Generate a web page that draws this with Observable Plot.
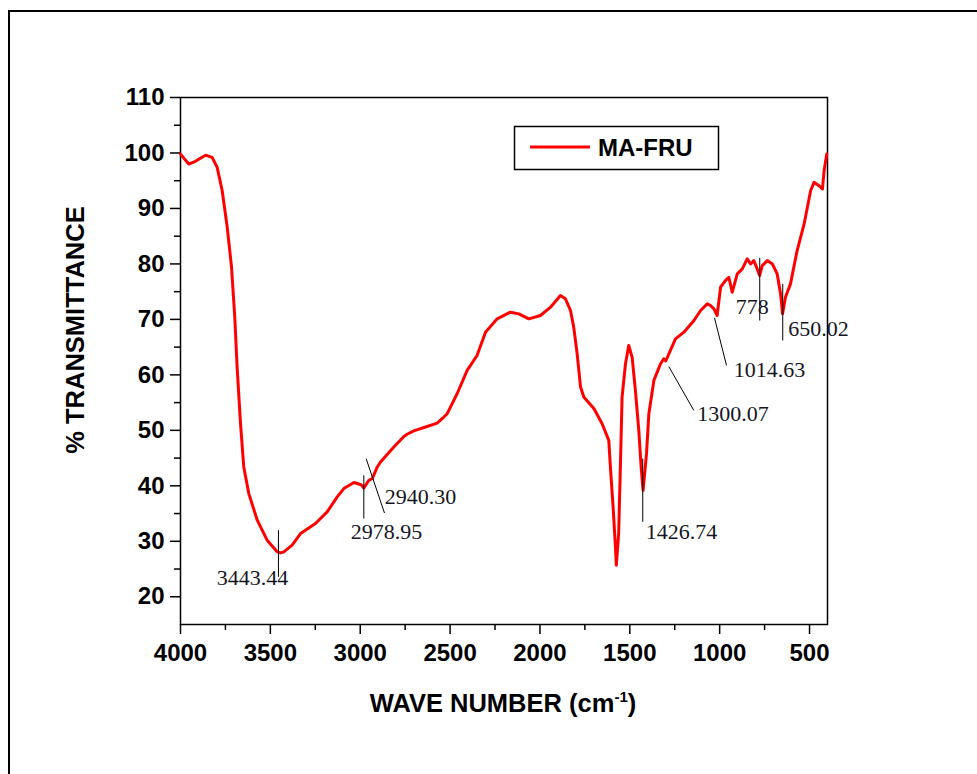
<!DOCTYPE html>
<html>
<head>
<meta charset="utf-8">
<script src="https://cdn.jsdelivr.net/npm/d3@7"></script>
<script src="https://cdn.jsdelivr.net/npm/@observablehq/plot@0.6"></script>
<style>
  body { margin: 0; background: #fff; }
  #wrap { position: relative; width: 977px; height: 774px; overflow: hidden; }
  #border { position: absolute; left: 8px; top: 10px; width: 1000px; height: 800px;
            border-left: 2px solid #000; border-top: 2px solid #000; pointer-events: none; }
</style>
</head>
<body>
<div id="wrap"><div id="border"></div></div>
<script>
// FTIR spectrum of MA-FRU: wavenumber (cm-1) and % transmittance
const wavenumber = [
  4000, 3954, 3917, 3861, 3824, 3796, 3768, 3740, 3716, 3698, 3685, 3666, 3648, 3620,
  3573, 3518, 3462, 3443, 3425, 3379, 3332, 3249, 3184, 3128, 3091, 3035, 2995, 2980,
  2952, 2933, 2905, 2887, 2813, 2757, 2739, 2702, 2628, 2572, 2535, 2516, 2498, 2461,
  2405, 2350, 2303, 2238, 2164, 2117, 2062, 1997, 1941, 1886, 1858, 1830, 1812, 1793,
  1774, 1756, 1699, 1654, 1617, 1608, 1593, 1580, 1575, 1562, 1552, 1543, 1524, 1506,
  1487, 1469, 1450, 1437, 1426, 1407, 1394, 1366, 1329, 1311, 1300, 1246, 1199, 1143,
  1106, 1069, 1051, 1032, 1014, 995, 968, 949, 930, 902, 874, 847, 828, 810, 791, 778,
  763, 735, 707, 680, 661, 650, 634, 606, 569, 530, 494, 475, 447, 428, 419, 404
];
const transmittance = [
  99.8, 98.0, 98.5, 99.6, 99.2, 97.4, 93.2, 86.6, 79.4, 70.4, 61.4, 51.2, 43.4, 38.6,
  33.8, 30.2, 28.1, 27.9, 28.1, 29.3, 31.4, 33.2, 35.3, 38.0, 39.5, 40.6, 40.2, 39.6,
  41.0, 41.3, 43.4, 44.3, 47.0, 48.9, 49.3, 49.9, 50.7, 51.3, 52.4, 53.0, 54.2, 56.6,
  60.8, 63.5, 67.7, 70.1, 71.3, 71.0, 70.1, 70.7, 72.2, 74.3, 73.7, 71.6, 68.6, 63.8,
  57.8, 56.0, 53.9, 51.2, 48.2, 43.4, 36.2, 29.0, 25.7, 31.4, 44.0, 56.0, 62.0, 65.3,
  63.2, 57.2, 50.0, 43.4, 39.2, 45.8, 53.0, 59.0, 62.0, 62.9, 62.5, 66.5, 67.7, 69.8,
  71.6, 72.8, 72.5, 71.9, 70.7, 75.8, 77.0, 77.6, 74.9, 78.2, 79.1, 80.9, 80.0, 80.6, 79.1, 77.9,
  79.7, 80.6, 80.0, 78.2, 74.6, 71.0, 74.0, 76.4, 82.4, 87.2, 93.2, 94.7, 94.1, 93.5, 96.8, 99.8
];

// Peak annotations: label text, label position and leader line ends (data units)
const peakLabels = ["3443.44", "2978.95", "2940.30", "1426.74", "1300.07", "1014.63", "778", "650.02"];
const labelX   = [3600, 2854, 2665, 1212, 926, 723, 819, 450];
const labelY   = [23.4, 31.7, 38.0, 31.7, 52.9, 60.9, 72.2, 68.2];
const leaderX1 = [3455, 2980, 2967, 1428, 1283, 1029, 777, 649];
const leaderY1 = [32.0, 41.9, 44.9, 44.9, 61.5, 70.3, 81.1, 76.4];
const leaderX2 = [3455, 2980, 2865, 1428, 1144, 962, 777, 649];
const leaderY2 = [23.6, 34.1, 35.1, 33.5, 53.6, 61.7, 69.8, 66.2];

// Axis ticks
const yMajor = [20, 30, 40, 50, 60, 70, 80, 90, 100, 110];
const yMinor = [25, 35, 45, 55, 65, 75, 85, 95, 105];
const xMajor = [4000, 3500, 3000, 2500, 2000, 1500, 1000, 500];
const xMinor = [3750, 3250, 2750, 2250, 1750, 1250, 750];

const seriesName = "MA-FRU";
const yTitle = "% TRANSMITTANCE";

const spectrum = wavenumber.map((w, i) => ({w, t: transmittance[i]}));
const peaks = peakLabels.map((label, i) => ({
  label, tx: labelX[i], ty: labelY[i],
  x1: leaderX1[i], y1: leaderY1[i], x2: leaderX2[i], y2: leaderY2[i]
}));

const sans = "'Liberation Sans', Arial, sans-serif";
const serif = "'Liberation Serif', 'Times New Roman', serif";

const chart = Plot.plot({
  width: 977,
  height: 774,
  marginLeft: 180,
  marginRight: 150,
  marginTop: 97,
  marginBottom: 150,
  style: {fontFamily: sans, fontSize: "24px", fontWeight: "bold", background: "transparent", color: "#000", overflow: "visible"},
  x: {domain: [4000, 400]},
  y: {domain: [15, 110]},
  marks: [
    Plot.axisY(yMajor, {tickSize: 10, tickPadding: 6, label: null, tickFormat: d => String(d), strokeWidth: 1.5}),
    Plot.axisY(yMinor, {tickSize: 6, label: null, tickFormat: () => "", strokeWidth: 1.5}),
    Plot.axisX(xMajor, {tickSize: 10, tickPadding: 9, label: null, tickFormat: d => String(d), strokeWidth: 1.5}),
    Plot.axisX(xMinor, {tickSize: 6, label: null, tickFormat: () => "", strokeWidth: 1.5}),
    Plot.frame({stroke: "#000", strokeWidth: 1.5}),
    Plot.line(spectrum, {x: "w", y: "t", stroke: "#ff0000", strokeWidth: 3, strokeLinejoin: "round"}),
    Plot.link(peaks, {x1: "x1", y1: "y1", x2: "x2", y2: "y2", stroke: "#000", strokeWidth: 1}),
    Plot.text(peaks, {x: "tx", y: "ty", text: "label", fontFamily: serif, fontSize: 22, fontWeight: "normal", fill: "#15151f"})
  ]
});

document.getElementById("wrap").prepend(chart);

const svg = d3.select(chart);

// Y axis title
svg.append("text")
  .attr("transform", "translate(84,330) rotate(-90)")
  .attr("text-anchor", "middle")
  .attr("font-family", sans).attr("font-size", 25.5).attr("font-weight", "bold")
  .attr("fill", "#000")
  .text(yTitle);

// X axis title with superscript
const xt = svg.append("text")
  .attr("x", 503).attr("y", 712)
  .attr("text-anchor", "middle")
  .attr("font-family", sans).attr("font-size", 25.5).attr("font-weight", "bold")
  .attr("fill", "#000");
xt.append("tspan").text("WAVE NUMBER (cm");
xt.append("tspan").attr("font-size", 15).attr("dy", -10).text("-1");
xt.append("tspan").attr("dy", 10).text(")");

// Legend
const lg = svg.append("g");
lg.append("rect").attr("x", 514.5).attr("y", 126.5).attr("width", 204).attr("height", 43)
  .attr("fill", "#fff").attr("stroke", "#000").attr("stroke-width", 1.5);
lg.append("line").attr("x1", 530).attr("x2", 590).attr("y1", 147).attr("y2", 147)
  .attr("stroke", "#ff0000").attr("stroke-width", 3);
lg.append("text").attr("x", 598).attr("y", 155.5)
  .attr("text-anchor", "start")
  .attr("font-family", sans).attr("font-size", 24).attr("font-weight", "bold")
  .attr("fill", "#000").text(seriesName);
</script>
</body>
</html>
